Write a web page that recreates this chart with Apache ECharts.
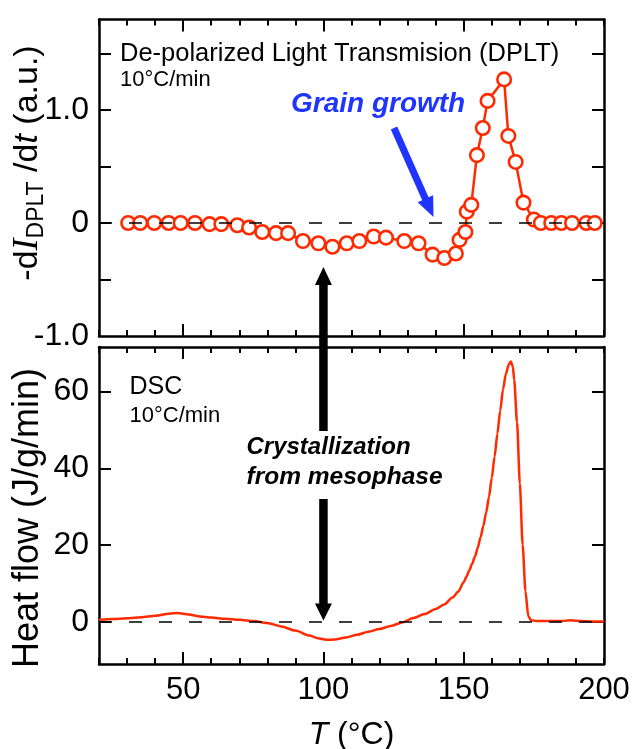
<!DOCTYPE html>
<html>
<head>
<meta charset="utf-8">
<script src="https://cdn.jsdelivr.net/npm/echarts@6/dist/echarts.min.js"></script>
<style>
  html, body { margin: 0; padding: 0; background: #fff; }
  #chart { width: 634px; height: 749px; }
</style>
</head>
<body>
<div id="chart"></div>
<script>
// De-polarized light transmission derivative (upper panel), one marker per reading
const dpltTemp = [30.4, 34.7, 39.7, 44.8, 49.1, 54.2, 59.4, 63.6, 69.3, 73.5, 78.2, 83.1, 87.4,
  92.7, 98.2, 103.2, 108.3, 112.8, 117.9, 122.3, 128.8, 133.9, 138.9, 143.1, 147.2, 148.5,
  150.6, 151.1, 152.7, 154.7, 156.8, 158.5, 164.4, 165.9, 168.5, 171.3, 175.0, 177.5, 181.2,
  184.8, 188.6, 193.7, 196.7];
const dpltSignal = [0, 0, 0, 0, 0, 0, -0.01, -0.01, -0.02, -0.04, -0.08, -0.09, -0.09,
  -0.16, -0.18, -0.21, -0.18, -0.16, -0.12, -0.13, -0.16, -0.18, -0.28, -0.31, -0.27, -0.15,
  -0.08, 0.10, 0.16, 0.60, 0.84, 1.08, 1.27, 0.77, 0.54, 0.18, 0.03, 0, 0, 0,
  0, 0, 0];

// DSC heat flow trace (lower panel)
const dscTemp = [20, 25, 30, 35, 40, 45, 48, 52, 56, 60, 65, 70, 75, 80, 85, 90, 95, 98, 101,
  104, 108, 112, 116, 120, 124, 128, 132, 136, 140, 143, 146, 148, 150, 151, 152, 153, 154,
  155, 156, 157, 158, 159, 160, 161, 162, 163, 164, 165, 166, 166.8, 167.5, 168, 169, 170,
  171, 172, 173, 174, 176, 180, 185, 188, 192, 196, 200];
const dscHeatFlow = [0.5, 0.7, 0.9, 1.2, 1.6, 2.1, 2.3, 1.9, 1.4, 1.1, 0.8, 0.5, 0.2, -0.3,
  -1.2, -2.3, -3.6, -4.3, -4.7, -4.6, -4.1, -3.4, -2.6, -1.9, -1.1, -0.2, 1.0, 2.0, 3.3, 4.5,
  6.3, 7.8, 10.3, 11.8, 13.4, 15.1, 17.0, 19.3, 22.0, 25.0, 28.5, 32.5, 37.5, 43.0, 49.0,
  55.0, 60.5, 64.5, 67.0, 67.8, 66.5, 63, 52, 36, 20, 8, 1.5, 0.4, 0.2, 0.2, 0.2, 0.4, 0.2,
  0.1, 0.1];

// Axis tick labels
const tempTicks = [50, 100, 150, 200];
const dpltTicks = [-1, 0, 1];
const dscTicks = [0, 20, 40, 60];

const FONT = "'Liberation Sans', Arial, sans-serif";
const SERIF = "'Liberation Serif', 'Times New Roman', serif";
const RED = '#ff2a00';
const BLUE = '#1f35ff';
const FRAME_W = 2.5;

const dpltData = dpltTemp.map((t, i) => [t, dpltSignal[i]]);
const dscData = dscTemp.map((t, i) => [t, dscHeatFlow[i]]);

function tempAxes(gridIndex, labelled) {
  const base = {
    type: 'value', gridIndex, min: 20, max: 200, interval: 10,
    splitLine: { show: false }
  };
  const minor = (position) => Object.assign({}, base, {
    position,
    axisLine: { show: true, onZero: false, lineStyle: { color: '#000', width: FRAME_W } },
    axisTick: { show: true, inside: true, length: 6, lineStyle: { color: '#000', width: 2 } },
    axisLabel: { show: false }
  });
  const major = (position, withLabels) => Object.assign({}, base, {
    position,
    axisLine: { show: false, onZero: false },
    axisTick: { show: true, inside: true, length: 12, customValues: [50, 100, 150],
      lineStyle: { color: '#000', width: 2 } },
    axisLabel: withLabels
      ? { show: true, customValues: tempTicks, color: '#000', fontFamily: FONT,
          fontSize: 31, margin: 11 }
      : { show: false }
  });
  return [minor('bottom'), minor('top'), major('bottom', labelled), major('top', false)];
}

function valueAxes(gridIndex, min, max, tickVals, labelVals, fmt) {
  const common = (position, withLabels) => ({
    type: 'value', gridIndex, min, max, position,
    splitLine: { show: false },
    axisLine: { show: true, onZero: false, lineStyle: { color: '#000', width: FRAME_W } },
    axisTick: { show: true, inside: true, length: 12, customValues: tickVals,
      lineStyle: { color: '#000', width: 2 } },
    axisLabel: withLabels
      ? { show: true, customValues: labelVals, formatter: fmt, color: '#000',
          fontFamily: FONT, fontSize: 32, margin: 10 }
      : { show: false }
  });
  return [common('left', true), common('right', false)];
}

function arrowPoints(x1, y1, x2, y2, shaftW, headLen, headW) {
  const dx = x2 - x1, dy = y2 - y1, L = Math.hypot(dx, dy);
  const ux = dx / L, uy = dy / L, px = -uy, py = ux;
  const bx = x2 - ux * headLen, by = y2 - uy * headLen;
  return [
    [x1 + px * shaftW / 2, y1 + py * shaftW / 2],
    [bx + px * shaftW / 2, by + py * shaftW / 2],
    [bx + px * headW / 2, by + py * headW / 2],
    [x2, y2],
    [bx - px * headW / 2, by - py * headW / 2],
    [bx - px * shaftW / 2, by - py * shaftW / 2],
    [x1 - px * shaftW / 2, y1 - py * shaftW / 2]
  ];
}

const zeroLine = {
  silent: true, symbol: 'none', label: { show: false },
  lineStyle: { color: '#000', width: 1.5, type: [13, 17] },
  data: [{ yAxis: 0 }]
};

const chart = echarts.init(document.getElementById('chart'), null, { renderer: 'canvas' });

const option = {
  animation: false,
  backgroundColor: '#fff',
  grid: [
    { left: 99, right: 30, top: 19.5, height: 316.5, containLabel: false, outerBoundsMode: 'none' },
    { left: 99, right: 30, top: 347, height: 317, containLabel: false, outerBoundsMode: 'none' }
  ],
  xAxis: [...tempAxes(0, false), ...tempAxes(1, true)],
  yAxis: [
    ...valueAxes(0, -1, 1.8, [-0.5, 0, 0.5, 1, 1.5], dpltTicks,
      v => (v === 0 ? '0' : v.toFixed(1))),
    ...valueAxes(1, -11, 71.6, dscTicks, dscTicks, v => String(v))
  ],
  series: [
    {
      name: 'DPLT', type: 'line', xAxisIndex: 0, yAxisIndex: 0, data: dpltData,
      symbol: 'circle', symbolSize: 13.5, showSymbol: true, z: 3,
      lineStyle: { color: RED, width: 2.5 },
      itemStyle: { color: '#fff', borderColor: RED, borderWidth: 2.6 }
    },
    {
      name: 'DPLT baseline', type: 'line', xAxisIndex: 0, yAxisIndex: 0, data: [], z: 5,
      markLine: zeroLine
    },
    {
      name: 'DSC', type: 'line', xAxisIndex: 4, yAxisIndex: 2, data: dscData,
      showSymbol: false, smooth: 0.25, smoothMonotone: 'x', z: 3,
      lineStyle: { color: RED, width: 2.5 }
    },
    {
      name: 'DSC baseline', type: 'line', xAxisIndex: 4, yAxisIndex: 2, data: [], z: 2,
      markLine: zeroLine
    }
  ]
};
chart.setOption(option);

// Annotations: arrows and text
const x100 = chart.convertToPixel({ xAxisIndex: 4 }, 100);
const graphics = [
  {
    type: 'polygon', z: 50,
    shape: { points: arrowPoints(394, 128, 433.5, 217, 7, 20, 17) },
    style: { fill: BLUE }
  },
  {
    type: 'polygon', z: 50,
    shape: { points: arrowPoints(x100, 431, x100, 267, 8.5, 18, 17) },
    style: { fill: '#000' }
  },
  {
    type: 'polygon', z: 50,
    shape: { points: arrowPoints(x100, 499, x100, 620.5, 8.5, 17, 17) },
    style: { fill: '#000' }
  },
  {
    type: 'text', z: 60, x: 120, y: 54,
    style: { text: 'De-polarized Light Transmision (DPLT)', font: `25.5px ${FONT}`,
      fill: '#000', align: 'left', verticalAlign: 'middle' }
  },
  {
    type: 'text', z: 60, x: 120, y: 80,
    style: { text: '10°C/min', font: `22px ${FONT}`, fill: '#000',
      align: 'left', verticalAlign: 'middle' }
  },
  {
    type: 'text', z: 60, x: 291, y: 104,
    style: { text: 'Grain growth', font: `italic bold 28px ${FONT}`, fill: BLUE,
      align: 'left', verticalAlign: 'middle' }
  },
  {
    type: 'text', z: 60, x: 129.5, y: 387.5,
    style: { text: 'DSC', font: `25px ${FONT}`, fill: '#000',
      align: 'left', verticalAlign: 'middle' }
  },
  {
    type: 'text', z: 60, x: 129.5, y: 416,
    style: { text: '10°C/min', font: `22px ${FONT}`, fill: '#000',
      align: 'left', verticalAlign: 'middle' }
  },
  {
    type: 'text', z: 60, x: 246.5, y: 447,
    style: { text: 'Crystallization', font: `italic bold 24px ${FONT}`, fill: '#000',
      align: 'left', verticalAlign: 'middle' }
  },
  {
    type: 'text', z: 60, x: 246.5, y: 477,
    style: { text: 'from mesophase', font: `italic bold 24.5px ${FONT}`, fill: '#000',
      align: 'left', verticalAlign: 'middle' }
  },
  {
    type: 'text', z: 60, x: 351.5, y: 735,
    style: {
      text: '{i|T} (°C)', font: `32px ${FONT}`, fill: '#000',
      align: 'center', verticalAlign: 'middle',
      rich: { i: { fontStyle: 'italic', fontSize: 32, fontFamily: FONT } }
    }
  },
  {
    type: 'text', z: 60, x: 28, y: 163, rotation: Math.PI / 2,
    style: {
      text: '-d{s|I}{sub|DPLT} /d{i|t} (a.u.)', font: `34px ${FONT}`, fill: '#000',
      align: 'center', verticalAlign: 'middle', lineHeight: 40,
      rich: {
        s: { fontStyle: 'italic', fontSize: 36, fontFamily: SERIF, lineHeight: 40 },
        i: { fontStyle: 'italic', fontSize: 34, fontFamily: FONT, lineHeight: 40 },
        sub: { fontSize: 23, fontFamily: FONT, lineHeight: 14, verticalAlign: 'bottom' }
      }
    }
  },
  {
    type: 'text', z: 60, x: 28, y: 518, rotation: Math.PI / 2,
    style: { text: 'Heat flow (J/g/min)', font: `36px ${FONT}`, fill: '#000',
      align: 'center', verticalAlign: 'middle' }
  }
];
chart.setOption({ graphic: graphics });
</script>
</body>
</html>
